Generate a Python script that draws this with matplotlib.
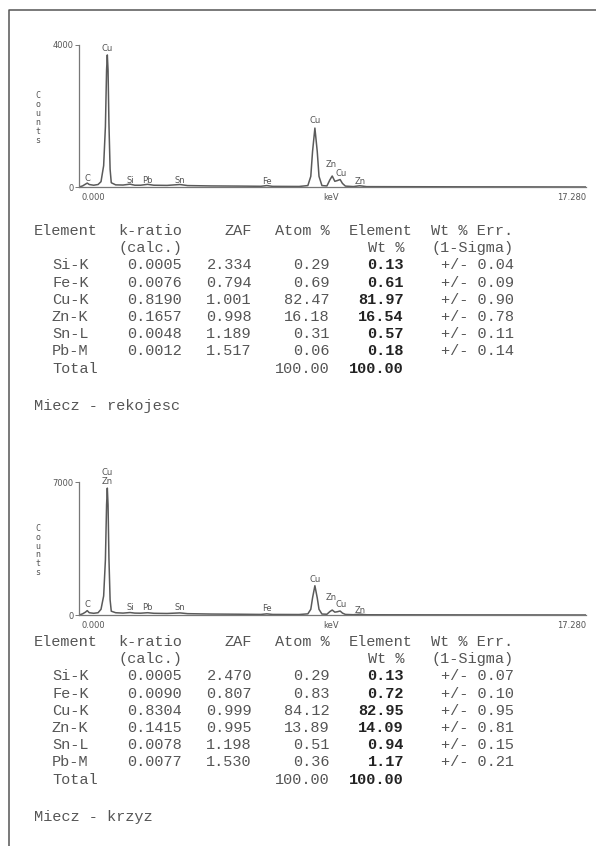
import matplotlib
matplotlib.use("Agg")
import matplotlib.pyplot as plt

# spectrum 1 (Miecz - rekojesc): keV / counts
top_kev = [0.00, 0.12, 0.22, 0.28, 0.35, 0.50, 0.65, 0.75, 0.84, 0.90, 0.94, 0.965,
           0.99, 1.02, 1.06, 1.10, 1.25, 1.50, 1.74, 1.90, 2.10, 2.34, 2.55, 3.00,
           3.44, 3.70, 4.50, 5.50, 6.20, 6.40, 6.60, 7.50, 7.80, 7.90, 7.96, 8.04,
           8.12, 8.18, 8.28, 8.45, 8.55, 8.63, 8.72, 8.80, 8.90, 8.98, 9.08, 9.35,
           9.57, 9.80, 11.0, 13.0, 15.0, 17.28]
top_counts = [0, 30, 80, 110, 70, 50, 70, 150, 600, 1700, 3300, 3720,
              3300, 1800, 500, 120, 60, 55, 80, 50, 50, 75, 50, 45,
              70, 40, 30, 25, 20, 40, 18, 15, 40, 300, 1000, 1660,
              1000, 300, 40, 30, 200, 310, 160, 180, 210, 100, 25, 12,
              35, 10, 8, 5, 3, 0]

# spectrum 2 (Miecz - krzyz)
bot_kev = [0.00, 0.12, 0.22, 0.28, 0.35, 0.50, 0.65, 0.75, 0.84, 0.90, 0.94, 0.965,
           0.99, 1.02, 1.06, 1.10, 1.25, 1.50, 1.74, 1.90, 2.10, 2.34, 2.55, 3.00,
           3.44, 3.70, 4.50, 5.50, 6.20, 6.40, 6.60, 7.50, 7.80, 7.90, 7.96, 8.04,
           8.12, 8.18, 8.28, 8.45, 8.55, 8.63, 8.72, 8.80, 8.90, 8.98, 9.08, 9.35,
           9.57, 9.80, 11.0, 13.0, 15.0, 17.28]
bot_counts = [0, 60, 150, 230, 120, 90, 120, 300, 1000, 2900, 5800, 6680,
              5800, 3000, 800, 200, 120, 100, 130, 100, 95, 120, 90, 80,
              110, 70, 50, 40, 30, 60, 30, 25, 60, 300, 900, 1540,
              900, 300, 50, 40, 180, 260, 150, 170, 210, 100, 30, 15,
              45, 12, 10, 6, 4, 0]

# peak labels (keV of line, counts where the label sits)
top_lab = ["Cu", "C", "Si", "Pb", "Sn", "Fe", "Cu", "Zn", "Cu", "Zn"]
top_lab_kev = [0.965, 0.30, 1.74, 2.34, 3.44, 6.40, 8.04, 8.60, 8.92, 9.57]
top_lab_cnt = [3900, 230, 190, 190, 190, 160, 1860, 640, 380, 160]

bot_lab = ["Cu\nZn", "C", "Si", "Pb", "Sn", "Fe", "Cu", "Zn", "Cu", "Zn"]
bot_lab_kev = [0.965, 0.30, 1.74, 2.34, 3.44, 6.40, 8.04, 8.60, 8.92, 9.57]
bot_lab_cnt = [7250, 560, 400, 400, 400, 340, 1850, 920, 540, 230]

elements = ["Si-K", "Fe-K", "Cu-K", "Zn-K", "Sn-L", "Pb-M"]

k1 = [0.0005, 0.0076, 0.8190, 0.1657, 0.0048, 0.0012]
zaf1 = [2.334, 0.794, 1.001, 0.998, 1.189, 1.517]
atom1 = [0.29, 0.69, 82.47, 16.18, 0.31, 0.06]
wt1 = [0.13, 0.61, 81.97, 16.54, 0.57, 0.18]
err1 = [0.04, 0.09, 0.90, 0.78, 0.11, 0.14]

k2 = [0.0005, 0.0090, 0.8304, 0.1415, 0.0078, 0.0077]
zaf2 = [2.470, 0.807, 0.999, 0.995, 1.198, 1.530]
atom2 = [0.29, 0.83, 84.12, 13.89, 0.51, 0.36]
wt2 = [0.13, 0.72, 82.95, 14.09, 0.94, 1.17]
err2 = [0.07, 0.10, 0.95, 0.81, 0.15, 0.21]

W, H = 596, 846
fig = plt.figure(figsize=(W / 100, H / 100), dpi=100)
fig.patch.set_facecolor("white")

# overlay in pixel coordinates for page text and frame
page = fig.add_axes([0, 0, 1, 1])
page.set_xlim(0, W)
page.set_ylim(H, 0)
page.axis("off")
page.plot([9.3, 9.3, W], [H, 10.5, 10.5], color="#555555", lw=1.1)

GREY = "#5a5a5a"
small = dict(fontsize=6, color="#555555", family="DejaVu Sans")


def spectrum(kev, counts, ymax, left, bottom, top, labs, lab_kev, lab_cnt):
    right = 586
    ax = fig.add_axes([left / W, 1 - bottom / H, (right - left) / W, (bottom - top) / H])
    ax.patch.set_alpha(0)
    ax.plot(kev, counts, color=GREY, lw=1.1)
    ax.set_xlim(0, 17.28)
    ax.set_ylim(0, ymax)
    for s in ["top", "right"]:
        ax.spines[s].set_visible(False)
    for s in ["left", "bottom"]:
        ax.spines[s].set_color("#777777")
        ax.spines[s].set_linewidth(0.9)
    ax.set_xticks([])
    ax.set_yticks([0, ymax])
    ax.set_yticklabels(["0", str(ymax)])
    ax.tick_params(axis="y", length=3, width=0.7, color="#777777", pad=1,
                   labelsize=6, labelcolor="#555555")
    for lab, x, y in zip(labs, lab_kev, lab_cnt):
        ax.text(x, y, lab, ha="center", va="center", linespacing=1.0, **small)
    page.text(left + 2, bottom + 10, "0.000", ha="left", va="center", **small)
    page.text(331, bottom + 10, "keV", ha="center", va="center", **small)
    page.text(right, bottom + 10, "17.280", ha="right", va="center", **small)
    page.text(38, (top + bottom) / 2 + 2, "C\no\nu\nn\nt\ns",
              ha="center", va="center", linespacing=0.98, fontsize=6, color="#555555",
              family="DejaVu Sans Mono")
    return ax


spectrum(top_kev, top_counts, 4000, 79, 187, 45, top_lab, top_lab_kev, top_lab_cnt)
spectrum(bot_kev, bot_counts, 7000, 79, 615, 482, bot_lab, bot_lab_kev, bot_lab_cnt)

mono = dict(fontsize=11, family="Liberation Mono", color="#555555", va="center")
bold = dict(fontsize=11, family="Liberation Mono", color="#222222", va="center",
            weight="bold")


def table(y0, k, zaf, atom, wt, err, note):
    dy = 17.2
    page.text(34, y0, "Element", ha="left", **mono)
    page.text(182, y0, "k-ratio", ha="right", **mono)
    page.text(252, y0, "ZAF", ha="right", **mono)
    page.text(330, y0, "Atom %", ha="right", **mono)
    page.text(413, y0, "Element", ha="right", **mono)
    page.text(431, y0, "Wt % Err.", ha="left", **mono)
    page.text(182, y0 + dy, "(calc.)", ha="right", **mono)
    page.text(404, y0 + dy, "Wt %", ha="right", **mono)
    page.text(432, y0 + dy, "(1-Sigma)", ha="left", **mono)
    for i, el in enumerate(elements):
        y = y0 + dy * (i + 2)
        page.text(52, y, el, ha="left", **mono)
        page.text(182, y, f"{k[i]:.4f}", ha="right", **mono)
        page.text(252, y, f"{zaf[i]:.3f}", ha="right", **mono)
        page.text(330, y, f"{atom[i]:.2f}", ha="right", **mono)
        page.text(404, y, f"{wt[i]:.2f}", ha="right", **bold)
        page.text(441, y, f"+/- {err[i]:.2f}", ha="left", **mono)
    y = y0 + dy * 8
    page.text(52, y, "Total", ha="left", **mono)
    page.text(330, y, f"{sum(atom):.2f}", ha="right", **mono)
    page.text(404, y, f"{round(sum(wt), 0):.2f}", ha="right", **bold)
    page.text(34, y0 + dy * 10.15, note, ha="left", **mono)


table(231, k1, zaf1, atom1, wt1, err1, "Miecz - rekojesc")
table(642, k2, zaf2, atom2, wt2, err2, "Miecz - krzyz")

fig.savefig("out.png", dpi=100)
